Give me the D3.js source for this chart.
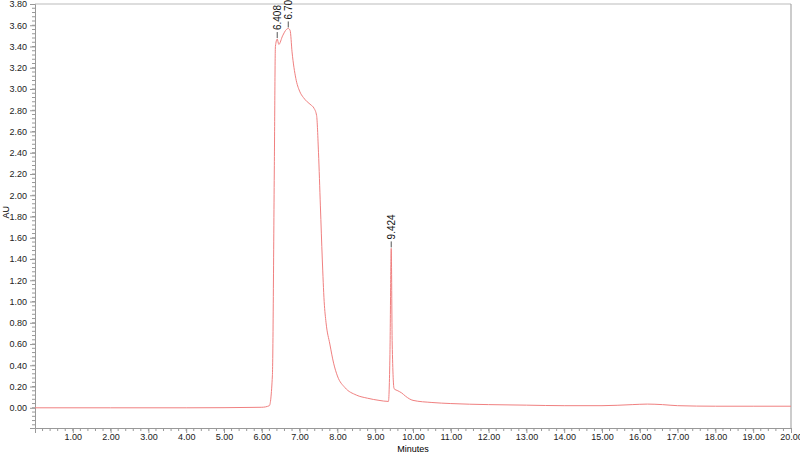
<!DOCTYPE html>
<html><head><meta charset="utf-8">
<script src="https://cdn.jsdelivr.net/npm/d3@7"></script>
<style>body{margin:0;background:#fff}</style>
</head><body>
<div id="chart"></div>
<script>
// data
var times = [0, 2, 4, 6.0, 6.2, 6.28, 6.33, 6.36, 6.408, 6.45, 6.55, 6.65, 6.70, 6.75, 6.8, 6.9, 7.0, 7.1, 7.2, 7.3, 7.38, 7.45, 7.5, 7.55, 7.6, 7.65, 7.7, 7.8, 7.9, 8.0, 8.2, 8.5, 8.8, 9.1, 9.35, 9.39, 9.424, 9.45, 9.5, 9.6, 9.7, 9.8, 10.0, 10.5, 11, 12, 13, 14, 15, 15.8, 16.2, 16.6, 17, 18, 19, 20];
var absorb = [0, 0, 0, 0.005, 0.02, 0.3, 2.2, 3.4, 3.47, 3.42, 3.5, 3.56, 3.57, 3.55, 3.35, 3.1, 2.98, 2.92, 2.88, 2.85, 2.82, 2.75, 2.4, 1.9, 1.4, 1.0, 0.8, 0.6, 0.42, 0.3, 0.19, 0.12, 0.09, 0.07, 0.06, 0.5, 1.5, 0.6, 0.18, 0.16, 0.14, 0.11, 0.07, 0.05, 0.04, 0.03, 0.025, 0.02, 0.02, 0.03, 0.035, 0.03, 0.02, 0.015, 0.015, 0.015];
var peakTimes = [6.408, 6.70, 9.424];
var peakLabels = ["6.408", "6.70", "9.424"];
var peakHeights = [3.47, 3.57, 1.5];

var svgWidth = 800, svgHeight = 455;
var margin = {top: 4, right: 9, bottom: 27, left: 35};
var width = svgWidth - margin.left - margin.right;
var height = svgHeight - margin.top - margin.bottom;

var svg = d3.select("#chart").append("svg")
    .attr("width", svgWidth).attr("height", svgHeight)
    .style("font-family", "Arial, 'Liberation Sans', sans-serif");

var g = svg.append("g").attr("transform", `translate(${margin.left},${margin.top})`);

var x = d3.scaleLinear().domain([0, 20]).range([0, width]);
var y = d3.scaleLinear().domain([-0.19, 3.8]).range([height, 0]);

var grey = "#999";

// frame lines
g.append("line").attr("x1", 0).attr("x2", width).attr("y1", 0).attr("y2", 0).attr("stroke", "#bbb");
g.append("line").attr("x1", width).attr("x2", width).attr("y1", 0).attr("y2", height).attr("stroke", grey);

// y axis
var yMajor = d3.range(0, 3.81, 0.2);
var yAxis = g.append("g").call(d3.axisLeft(y).tickValues(yMajor).tickFormat(d3.format(".2f")).tickSize(5));
var yMinor = d3.range(-0.16, 3.8, 0.04);
g.append("g").selectAll("line").data(yMinor).join("line")
    .attr("x1", -3).attr("x2", 0).attr("y1", d => y(d)).attr("y2", d => y(d)).attr("stroke", grey);

// x axis
var xAxis = g.append("g").attr("transform", `translate(0,${height})`)
    .call(d3.axisBottom(x).tickValues(d3.range(1, 20.1, 1)).tickFormat(d3.format(".2f")).tickSize(5));
g.append("g").selectAll("line").data(d3.range(0.2, 20, 0.2)).join("line")
    .attr("x1", d => x(d)).attr("x2", d => x(d)).attr("y1", height).attr("y2", height + 3).attr("stroke", grey);

[yAxis, xAxis].forEach(a => {
    a.select(".domain").attr("stroke", grey);
    a.selectAll(".tick line").attr("stroke", grey);
    a.selectAll("text").attr("font-size", 9).attr("fill", "#222");
});
xAxis.selectAll("text").attr("y", 6).attr("dy", "0.71em");

svg.append("text").attr("x", margin.left + width / 2).attr("y", svgHeight - 3)
    .attr("text-anchor", "middle").attr("font-size", 9).text("Minutes");
svg.append("text").attr("transform", `translate(9,${margin.top + y(1.84)}) rotate(-90)`)
    .attr("text-anchor", "middle").attr("font-size", 9).text("AU");

// trace
var line = d3.line().x((d, i) => x(times[i])).y(d => y(d)).curve(d3.curveMonotoneX);
g.append("path").datum(absorb).attr("d", line)
    .attr("fill", "none").attr("stroke", "#f08080").attr("stroke-width", 1);

// peak labels
peakTimes.forEach((t, i) => {
    var px = x(t), py = y(peakHeights[i]);
    g.append("line").attr("x1", px).attr("x2", px).attr("y1", py - 1).attr("y2", py - 7).attr("stroke", "#555");
    g.append("text").attr("transform", `translate(${px + 3.5},${py - 9}) rotate(-90)`)
        .attr("font-size", 10).attr("fill", "#111").text(peakLabels[i]);
});
</script>
</body></html>
